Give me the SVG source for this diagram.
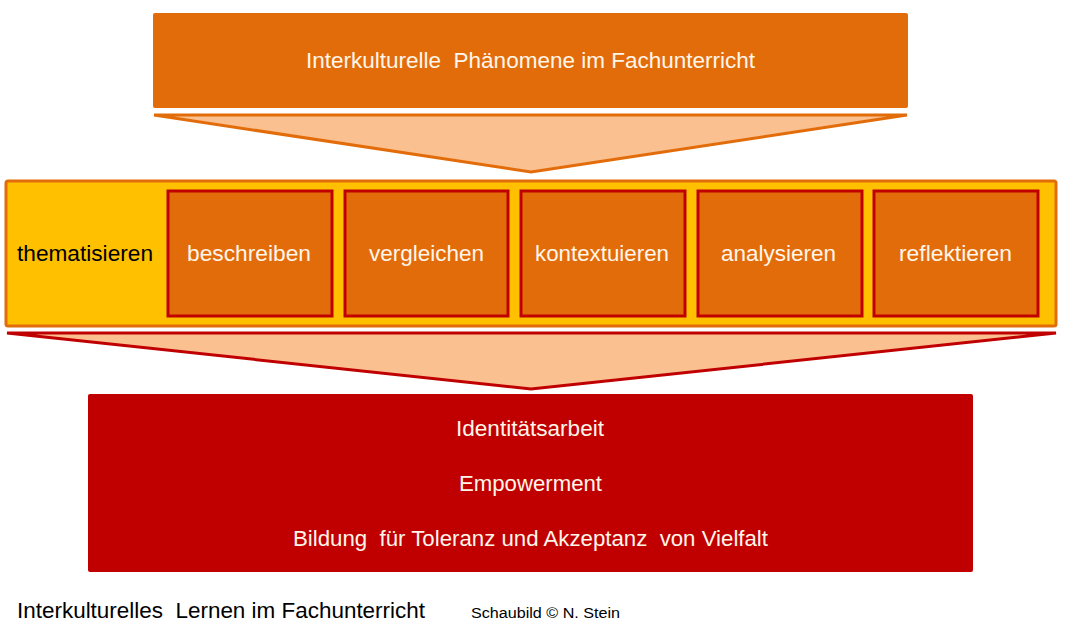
<svg xmlns="http://www.w3.org/2000/svg" width="1066" height="636" viewBox="0 0 1066 636">
<style>
text{font-family:"Liberation Sans",Arial,sans-serif;font-size:21.5px;white-space:pre;}
.w{fill:#FFF6EA;text-anchor:middle;}
.step{fill:#E36C0A;stroke:#C00000;stroke-width:3;}
</style>
<rect width="1066" height="636" fill="#FFFFFF"/>
<g id="connectors">
<polygon points="154,115 907,115 531,172" fill="#FAC090" stroke="#E36C0A" stroke-width="3" stroke-linejoin="miter"/>
<polygon points="7,333 1056,333 531,389" fill="#FAC090" stroke="#C00000" stroke-width="3"/>
</g>
<g id="top">
<rect x="153" y="13" width="755" height="95" fill="#E36C0A" rx="2"/>
<text class="w" x="530.5" y="68" textLength="449" lengthAdjust="spacingAndGlyphs" xml:space="preserve">Interkulturelle  Phänomene im Fachunterricht</text>
</g>
<g id="band">
<rect x="6" y="181" width="1050" height="145" fill="#FFC000" stroke="#E36C0A" stroke-width="3" rx="2"/>
<text x="17" y="261" fill="#000000" textLength="136" lengthAdjust="spacingAndGlyphs">thematisieren</text>
</g>
<g id="beschreiben"><rect class="step" x="168" y="191" width="164" height="125"/><text class="w" x="249" y="261" textLength="124" lengthAdjust="spacingAndGlyphs">beschreiben</text></g>
<g id="vergleichen"><rect class="step" x="345" y="191" width="163" height="125"/><text class="w" x="426.5" y="261" textLength="115" lengthAdjust="spacingAndGlyphs">vergleichen</text></g>
<g id="kontextuieren"><rect class="step" x="521" y="191" width="164" height="125"/><text class="w" x="602" y="261" textLength="134" lengthAdjust="spacingAndGlyphs">kontextuieren</text></g>
<g id="analysieren"><rect class="step" x="698" y="191" width="164" height="125"/><text class="w" x="778.5" y="261" textLength="115" lengthAdjust="spacingAndGlyphs">analysieren</text></g>
<g id="reflektieren"><rect class="step" x="874" y="191" width="164" height="125"/><text class="w" x="955.5" y="261" textLength="113" lengthAdjust="spacingAndGlyphs">reflektieren</text></g>
<g id="outcome">
<rect x="88" y="394" width="885" height="178" fill="#C00000" rx="2"/>
<text class="w" x="530" y="436" textLength="148" lengthAdjust="spacingAndGlyphs">Identitätsarbeit</text>
<text class="w" x="530.5" y="491" textLength="143" lengthAdjust="spacingAndGlyphs">Empowerment</text>
<text class="w" x="530.5" y="546" textLength="475" lengthAdjust="spacingAndGlyphs" xml:space="preserve">Bildung  für Toleranz und Akzeptanz  von Vielfalt</text>
</g>
<g id="footer">
<text x="17" y="618" fill="#000000" textLength="408" lengthAdjust="spacingAndGlyphs" xml:space="preserve">Interkulturelles  Lernen im Fachunterricht</text>
<text x="471" y="618" fill="#000000" style="font-size:15.5px" textLength="149" lengthAdjust="spacingAndGlyphs">Schaubild © N. Stein</text>
</g>
</svg>
